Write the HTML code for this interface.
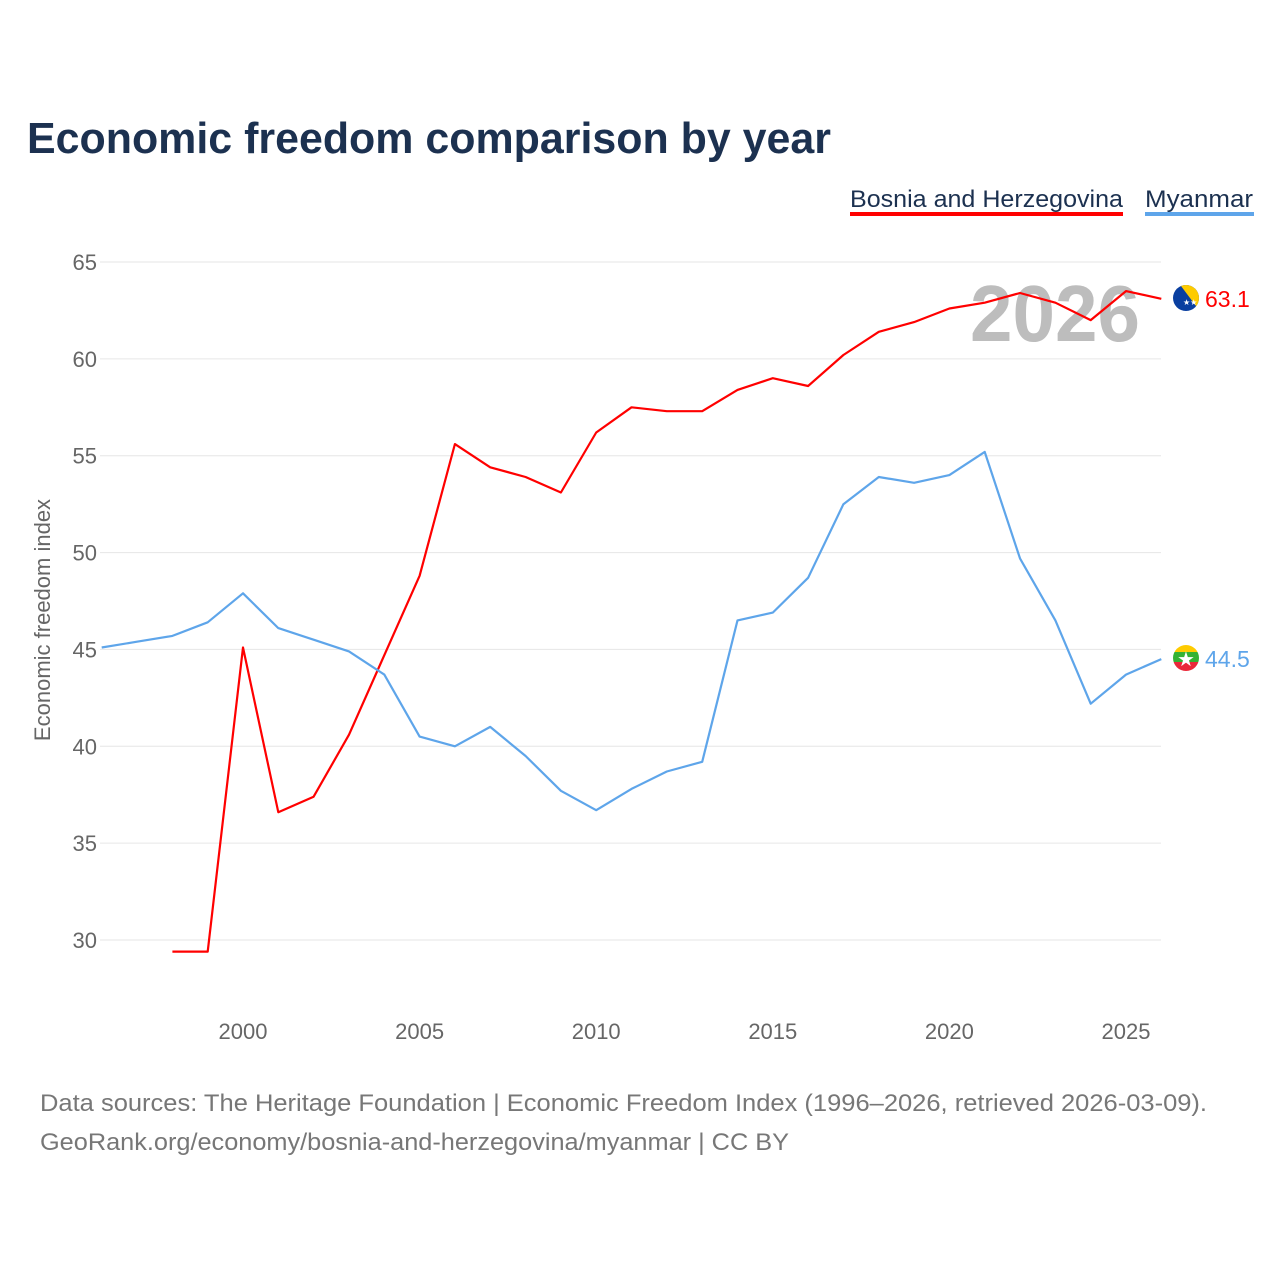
<!DOCTYPE html>
<html><head><meta charset="utf-8">
<style>
body{margin:0;background:#fff;}
svg text{font-family:"Liberation Sans",sans-serif;}
</style></head>
<body>
<svg id="chart" width="1280" height="1280" viewBox="0 0 1280 1280" xmlns="http://www.w3.org/2000/svg">
<defs>
<clipPath id="cb"><circle cx="1186" cy="298" r="13"/></clipPath>
<clipPath id="cm"><circle cx="1186" cy="658" r="13"/></clipPath>
</defs>
<rect width="1280" height="1280" fill="#fff"/>
<text x="27" y="153" font-size="44" font-weight="bold" fill="#1c3150" textLength="804" lengthAdjust="spacingAndGlyphs">Economic freedom comparison by year</text>
<g>
<text x="850" y="207" font-size="24" fill="#1c3150" textLength="273" lengthAdjust="spacingAndGlyphs">Bosnia and Herzegovina</text>
<rect x="850" y="212" width="273" height="4" fill="#ff0000"/>
</g>
<g>
<text x="1145" y="207" font-size="24" fill="#1c3150" textLength="108" lengthAdjust="spacingAndGlyphs">Myanmar</text>
<rect x="1145" y="212" width="109" height="4" fill="#5ea5ea"/>
</g>
<text x="970" y="341" font-size="80" font-weight="bold" fill="#bdbdbd" textLength="170" lengthAdjust="spacingAndGlyphs">2026</text>
<g id="grid"></g>
<g id="series"></g>
<g clip-path="url(#cb)">
<rect x="1170" y="282" width="32" height="32" fill="#0a3fa0"/>
<polygon points="1178,282 1202,282 1202,314" fill="#fecb00"/>
<text x="1183" y="305" font-size="8" fill="#fff">★★</text>
</g>
<g clip-path="url(#cm)">
<rect x="1170" y="642" width="32" height="10" fill="#fecb00"/>
<rect x="1170" y="652" width="32" height="10" fill="#34b233"/>
<rect x="1170" y="662" width="32" height="12" fill="#ea2839"/>
<text x="1186" y="666" font-size="20" fill="#fff" text-anchor="middle">★</text>
</g>
<text transform="translate(50,620) rotate(-90)" text-anchor="middle" font-size="22" fill="#666">Economic freedom index</text>
<text x="40" y="1111" font-size="24" fill="#777" textLength="1167" lengthAdjust="spacingAndGlyphs">Data sources: The Heritage Foundation | Economic Freedom Index (1996–2026, retrieved 2026-03-09).</text>
<text x="40" y="1150" font-size="24" fill="#777" textLength="749" lengthAdjust="spacingAndGlyphs">GeoRank.org/economy/bosnia-and-herzegovina/myanmar | CC BY</text>
</svg>
<script>
const years=[1996,1997,1998,1999,2000,2001,2002,2003,2004,2005,2006,2007,2008,2009,2010,2011,2012,2013,2014,2015,2016,2017,2018,2019,2020,2021,2022,2023,2024,2025,2026];
const bosnia=[null,null,29.4,29.4,45.1,36.6,37.4,40.6,44.7,48.8,55.6,54.4,53.9,53.1,56.2,57.5,57.3,57.3,58.4,59.0,58.6,60.2,61.4,61.9,62.6,62.9,63.4,62.9,62.0,63.5,63.1];
const myanmar=[45.1,45.4,45.7,46.4,47.9,46.1,45.5,44.9,43.7,40.5,40.0,41.0,39.5,37.7,36.7,37.8,38.7,39.2,46.5,46.9,48.7,52.5,53.9,53.6,54.0,55.2,49.7,46.5,42.2,43.7,44.5];
const yTicks=[30,35,40,45,50,55,60,65];
const xTicks=[2000,2005,2010,2015,2020,2025];
const X=v=>243+(v-2000)*35.32;
const Y=v=>940-(v-30)*19.371;
const NS="http://www.w3.org/2000/svg";
const grid=document.getElementById('grid'),ser=document.getElementById('series');
function mk(tag,attrs,parent){const e=document.createElementNS(NS,tag);for(const k in attrs)e.setAttribute(k,attrs[k]);parent.appendChild(e);return e;}
yTicks.forEach(t=>{
 const l=mk('line',{x1:100,x2:1161,y1:Y(t),y2:Y(t),stroke:'#e6e6e6','stroke-width':1},grid);
 
 
 const tx=mk('text',{x:97,y:Y(t)+8,'text-anchor':'end','font-size':22,fill:'#666'},grid);
 tx.textContent=t;
 
 
});
xTicks.forEach(t=>{
 const tx=mk('text',{x:X(t),y:1039,'text-anchor':'middle','font-size':22,fill:'#666'},grid);
 tx.textContent=t;
 
 
});
function line(vals,color,name){
 let d='';vals.forEach((v,i)=>{if(v==null)return;d+=(d?'L':'M')+X(years[i]).toFixed(1)+','+Y(v).toFixed(1);});
 const p=mk('path',{d:d,fill:'none',stroke:color,'stroke-width':2.2,'stroke-linejoin':'round'},ser);
 
 
 const last=vals[vals.length-1];
 const t=mk('text',{x:1205,y:Y(last)+8,'font-size':23,fill:color},ser);
 t.textContent=last.toFixed(1);
 
 
}
line(bosnia,'#ff0000','bosnia');
line(myanmar,'#5ea5ea','myanmar');
</script>
</body></html>
